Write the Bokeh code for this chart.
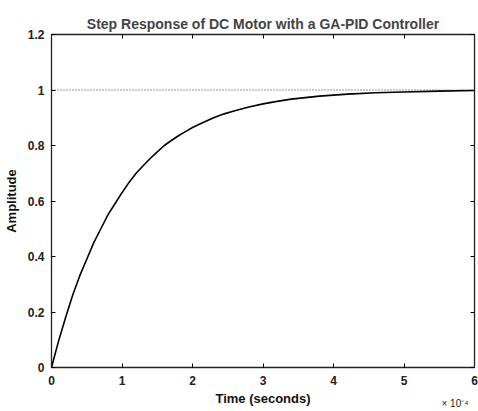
from bokeh.plotting import figure
from bokeh.models import LinearAxis, FixedTicker, Title, Range1d, CustomJSTickFormatter
from bokeh.embed import file_html
from bokeh.resources import INLINE

# time in units of 1e-4 s
time_e4 = [0, 0.1, 0.2, 0.3, 0.4, 0.5, 0.6, 0.7, 0.8, 0.9, 1.0, 1.1, 1.2, 1.3, 1.4,
           1.5, 1.6, 1.7, 1.8, 1.9, 2.0, 2.15, 2.3, 2.45, 2.6, 2.8, 3.0, 3.2, 3.4,
           3.8, 4.2, 4.6, 5.0, 5.5, 6.0]
amplitude = [0, 0.095, 0.18, 0.26, 0.33, 0.39, 0.45, 0.50, 0.55, 0.59, 0.63, 0.667,
             0.70, 0.727, 0.753, 0.777, 0.80, 0.818, 0.835, 0.85, 0.865, 0.883,
             0.90, 0.914, 0.925, 0.939, 0.95, 0.959, 0.967, 0.978, 0.985, 0.99,
             0.993, 0.996, 0.998]
ref_x = [0, 6]
ref_y = [1, 1]
x_ticks = [0, 1, 2, 3, 4, 5, 6]
y_ticks = [0, 0.2, 0.4, 0.6, 0.8, 1, 1.2]
y_labels = ["0", "0.2", "0.4", "0.6", "0.8", "1", "1.2"]
scale_label = "× 10⁻⁴"

FONT = "Liberation Sans"

p = figure(width=478, height=411, output_backend="svg", toolbar_location=None,
           x_range=Range1d(0, 6), y_range=Range1d(0, 1.2),
           min_border_left=51, min_border_right=4, min_border_top=34, min_border_bottom=44,
           title="Step Response of DC Motor with a GA-PID Controller")
p.title.align = "center"
p.title.text_font = FONT
p.title.text_font_size = "14px"
p.title.text_font_style = "bold"
p.title.offset = 0
p.title.standoff = 6

p.xgrid.visible = False
p.ygrid.visible = False
p.outline_line_color = "#222222"
p.outline_line_width = 1.3

p.line(ref_x, ref_y, line_color="#333333", line_width=1.2, line_dash="1 2")
p.line(time_e4, amplitude, line_color="black", line_width=1.6)

for ax in p.xaxis + p.yaxis:
    ax.major_tick_in = 4
    ax.major_tick_out = 0
    ax.minor_tick_out = 0
    ax.minor_tick_in = 0
    ax.axis_line_color = "#222222"
    ax.major_label_text_font = FONT
    ax.major_label_text_font_size = "12px"
    ax.major_label_text_font_style = "bold"
    ax.major_label_text_color = "#222222"
    ax.axis_label_text_font = FONT
    ax.axis_label_text_font_size = "13px"
    ax.axis_label_text_font_style = "bold"
    ax.axis_label_text_color = "#111111"

p.xaxis.ticker = FixedTicker(ticks=x_ticks)
p.yaxis.ticker = FixedTicker(ticks=y_ticks)
p.yaxis.major_label_overrides = {t: l for t, l in zip(y_ticks, y_labels)}
p.xaxis.axis_label = "Time (seconds)"
p.yaxis.axis_label = "Amplitude"
p.xaxis.axis_label_standoff = 3
p.yaxis.axis_label_standoff = 6
p.xaxis.major_label_standoff = 8
p.yaxis.major_label_standoff = 7

blank = CustomJSTickFormatter(code="return ''")
top = LinearAxis(ticker=FixedTicker(ticks=x_ticks), formatter=blank,
                 major_tick_in=4, major_tick_out=0, minor_tick_in=0, minor_tick_out=0,
                 axis_line_color="#222222", major_label_standoff=0)
right = LinearAxis(ticker=FixedTicker(ticks=y_ticks), formatter=blank,
                   major_tick_in=4, major_tick_out=0, minor_tick_in=0, minor_tick_out=0,
                   axis_line_color="#222222", major_label_standoff=0)
p.add_layout(top, "above")
p.add_layout(right, "right")

p.add_layout(Title(text=scale_label, align="right", vertical_align="top",
                   text_font=FONT, text_font_size="10px", text_font_style="normal",
                   text_color="#222222", offset=6, standoff=-22), "below")

open("out.html", "w").write(file_html(p, INLINE))
